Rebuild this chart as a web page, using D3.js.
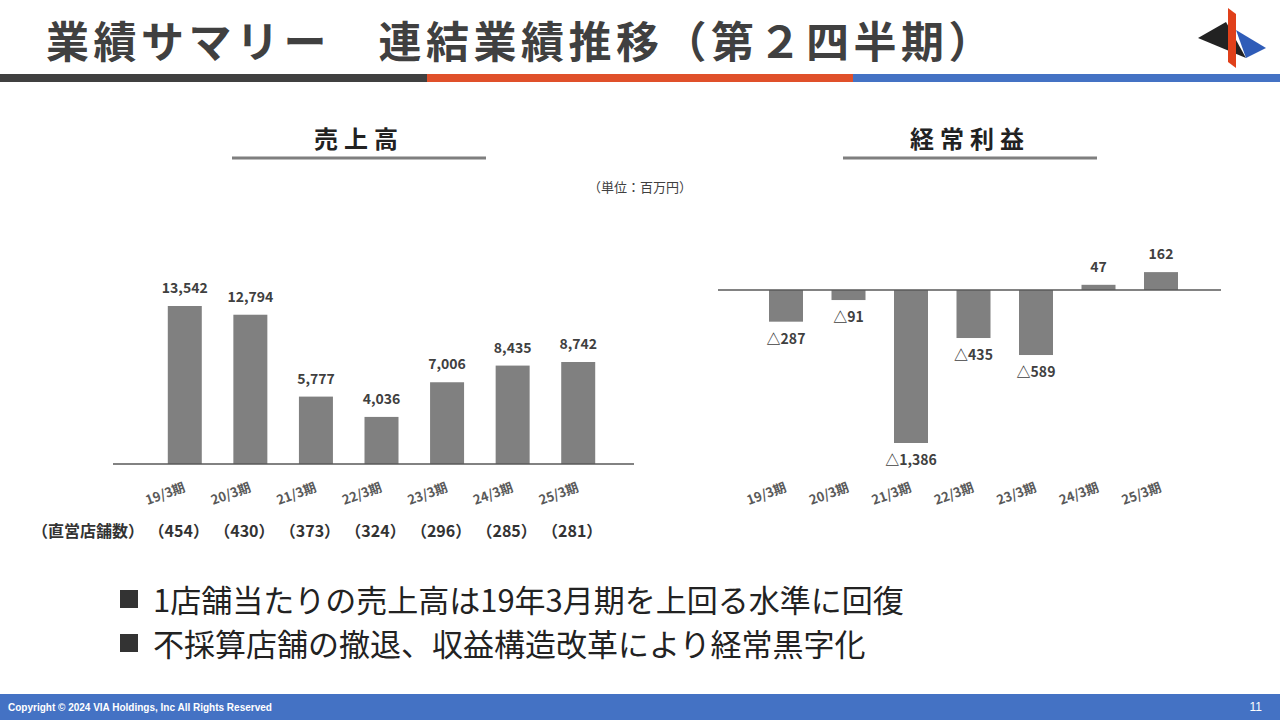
<!DOCTYPE html>
<html><head><meta charset="utf-8">
<script src="https://cdn.jsdelivr.net/npm/d3@7"></script>
<style>body{margin:0;background:#fff}svg{display:block;font-family:"Noto Sans CJK JP","Noto Sans",sans-serif}</style>
</head><body>
<svg id="c" width="1280" height="720"></svg>
<script>
const periods = ["19/3期","20/3期","21/3期","22/3期","23/3期","24/3期","25/3期"];
const sales = [13542,12794,5777,4036,7006,8435,8742];
const ordinary = [-287,-91,-1386,-435,-589,47,162];
const stores = [454,430,373,324,296,285,281];
const bullets = ["1店舗当たりの売上高は19年3月期を上回る水準に回復","不採算店舗の撤退、収益構造改革により経常黒字化"];

const svg = d3.select("#c");
const fmt = d3.format(",");
const barColor = "#808080", txt = "#404040";

// header
svg.append("text").attr("x",46).attr("y",58).attr("font-size",43).attr("font-weight","bold")
  .attr("fill",txt).attr("letter-spacing",4.5).attr("xml:space","preserve").text("業績サマリー　連結業績推移（第２四半期）");
[["#404040",0],["#E0502A",427],["#4472C4",853]].forEach(([c,x])=>
  svg.append("rect").attr("x",x).attr("y",74).attr("width",427).attr("height",8).attr("fill",c));
// logo
const lg = svg.append("g");
lg.append("path").attr("d","M1198 38 L1226 22 L1246 58 Z").attr("fill","#222");
lg.append("path").attr("d","M1236 30 L1266 48 L1246 58 Z").attr("fill","#2F5CB8");
lg.append("path").attr("d","M1228 8 L1236 14 L1236 68 L1228 62 Z").attr("fill","#E0401A");

// chart titles
function title(t,cx){
  svg.append("text").attr("x",cx).attr("y",148).attr("text-anchor","middle").attr("font-size",24)
    .attr("font-weight","bold").attr("fill","#222").attr("letter-spacing",6).text(t);
  svg.append("line").attr("x1",cx-127).attr("x2",cx+127).attr("y1",158).attr("y2",158)
    .attr("stroke","#7f7f7f").attr("stroke-width",3);
}
title("売上高",359); title("経常利益",970);
svg.append("text").attr("x",640).attr("y",192).attr("text-anchor","middle").attr("font-size",13)
  .attr("fill",txt).text("（単位：百万円）");

function chart(vals, xr, y, axX, labFmt, labY){
  const x = d3.scaleBand().domain(periods).range(xr);
  const bw = 34;
  const g = svg.append("g");
  g.selectAll("rect").data(vals).join("rect")
    .attr("x",(d,i)=>x(periods[i])+x.bandwidth()/2-bw/2)
    .attr("y",d=>Math.min(y(d),y(0))).attr("width",bw)
    .attr("height",d=>Math.abs(y(d)-y(0))).attr("fill",barColor);
  g.append("line").attr("x1",axX[0]).attr("x2",axX[1]).attr("y1",y(0)).attr("y2",y(0))
    .attr("stroke","#595959").attr("stroke-width",1.5);
  g.selectAll("text.v").data(vals).join("text").attr("class","v")
    .attr("x",(d,i)=>x(periods[i])+x.bandwidth()/2)
    .attr("y",d=>d>=0? y(d)-13 : y(d)+22).attr("text-anchor","middle")
    .attr("font-size",14).attr("font-weight","bold").attr("fill",txt).text(labFmt);
  g.selectAll("text.p").data(periods).join("text").attr("class","p")
    .attr("transform",p=>`translate(${x(p)+x.bandwidth()/2-18},${labY}) rotate(-20)`)
    .attr("text-anchor","middle").attr("font-size",13).attr("font-weight","bold").attr("fill","#595959").text(d=>d);
  return x;
}
const yL = d3.scaleLinear().domain([0,13542]).range([464,306]);
const xL = chart(sales,[152,611],yL,[113,634],d=>fmt(d),498);
const yR = d3.scaleLinear().domain([-1386,0]).range([443,290]);
chart(ordinary,[754.75,1192.25],yR,[718,1221],d=>d<0?"△"+fmt(-d):fmt(d),498);

// store counts
svg.append("text").attr("x",32).attr("y",537).attr("font-size",16).attr("font-weight","bold").attr("fill","#333").text("（直営店舗数）");
svg.selectAll("text.s").data(stores).join("text").attr("class","s")
  .attr("x",(d,i)=>xL(periods[i])+xL.bandwidth()/2-6).attr("y",537).attr("text-anchor","middle")
  .attr("font-size",16).attr("font-weight","bold").attr("fill","#333").text(d=>`（${d}）`);

// bullets
bullets.forEach((b,i)=>{
  const yy = 612+i*44;
  svg.append("rect").attr("x",120).attr("y",yy-22).attr("width",18).attr("height",18).attr("fill","#333");
  svg.append("text").attr("x",153).attr("y",yy).attr("font-size",31).attr("fill","#222").text(b);
});

// footer
svg.append("rect").attr("x",0).attr("y",694).attr("width",1280).attr("height",26).attr("fill","#4472C4");
svg.append("text").attr("x",8).attr("y",711).attr("font-size",10).attr("fill","#fff")
  .attr("font-family","Liberation Sans, Arial").attr("font-weight","bold").text("Copyright © 2024 VIA Holdings, Inc All Rights Reserved");
svg.append("text").attr("x",1262).attr("y",711).attr("font-size",12).attr("fill","#fff").attr("text-anchor","end")
  .attr("font-family","Liberation Sans, Arial").text("11");
</script>
</body></html>
